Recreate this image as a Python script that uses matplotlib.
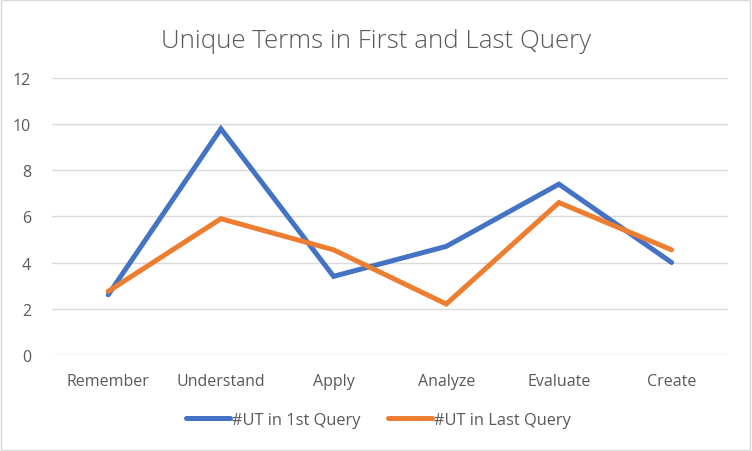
import matplotlib.pyplot as plt
from matplotlib.patches import Rectangle

# data
categories = ["Remember", "Understand", "Apply", "Analyze", "Evaluate", "Create"]
ut_first = [2.6, 9.8, 3.4, 4.7, 7.4, 4.0]
ut_last = [2.75, 5.9, 4.55, 2.2, 6.6, 4.55]
series_names = ["#UT in 1st Query", "#UT in Last Query"]
y_ticks = [0, 2, 4, 6, 8, 10, 12]

plt.rcParams['font.family'] = ['Open Sans', 'DejaVu Sans']
text_col = '#595959'

fig = plt.figure(figsize=(7.52, 4.52), dpi=100)
ax = fig.add_axes([0.069, 0.213, 0.899, 0.612])

x = range(len(categories))
ax.plot(x, ut_first, color='#4472C4', lw=3.6, solid_capstyle='round',
        solid_joinstyle='miter', label=series_names[0], zorder=3)
ax.plot(x, ut_last, color='#ED7D31', lw=3.6, solid_capstyle='round',
        solid_joinstyle='miter', label=series_names[1], zorder=3)

ax.set_xlim(-0.5, len(categories) - 0.5)
ax.set_ylim(0, 12)
ax.set_yticks(y_ticks)
ax.set_xticks(list(x))
ax.set_xticklabels(categories)
ax.tick_params(axis='both', length=0, labelsize=11.5, colors=text_col)
ax.tick_params(axis='x', pad=13)
ax.tick_params(axis='y', pad=15)
for lab in ax.get_yticklabels():
    lab.set_horizontalalignment('right')
ax.grid(axis='y', color='#D9D9D9', lw=1.0)
ax.set_axisbelow(True)
for s in ax.spines.values():
    s.set_visible(False)

fig.text(0.5, 0.908, "Unique Terms in First and Last Query", ha='center', va='center',
         fontsize=18.6, color=text_col, fontweight='light')

leg = fig.legend(loc='center', bbox_to_anchor=(0.503, 0.069), ncol=2, frameon=False,
                 fontsize=11.8, handlelength=2.7, handletextpad=0.1, columnspacing=1.7)
for t in leg.get_texts():
    t.set_color(text_col)

fig.patches.append(Rectangle((0.001, 0.002), 0.996, 0.995, transform=fig.transFigure,
                             fill=False, edgecolor='#D9D9D9', lw=1.0))

fig.savefig('out.png', dpi=100)
